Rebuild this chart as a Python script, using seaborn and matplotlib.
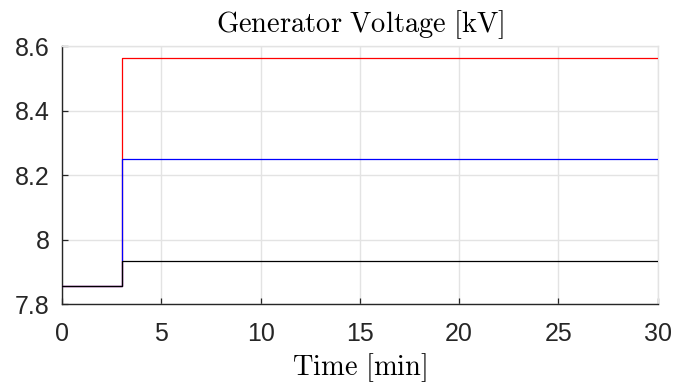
import numpy as np
import pandas as pd
import matplotlib
matplotlib.use("Agg")
import matplotlib.pyplot as plt
import seaborn as sns

# Time axis (minutes) and voltage levels per case (kV)
time_min = [0.0, 3.0, 30.0]
v_high = [7.857, 8.562, 8.562]
v_mid = [7.857, 8.249, 8.249]
v_low = [7.857, 7.935, 7.935]

series_names = ["high", "mid", "low"]
series_colors = ["#ff0000", "#0000ff", "#000000"]

x_ticks = [0, 5, 10, 15, 20, 25, 30]
y_ticks = [7.8, 8.0, 8.2, 8.4, 8.6]
y_tick_labels = ["7.8", "8", "8.2", "8.4", "8.6"]

df = pd.concat(
    [
        pd.DataFrame({"time": time_min, "voltage": vals, "case": name})
        for name, vals in zip(series_names, [v_high, v_mid, v_low])
    ],
    ignore_index=True,
)

sns.set_style("ticks")
plt.rcParams["font.family"] = ["Liberation Sans", "DejaVu Sans"]
plt.rcParams["mathtext.fontset"] = "cm"

fig = plt.figure(figsize=(6.75, 3.85), dpi=100)
ax = fig.add_axes([62 / 675, 80.7 / 385, 595.7 / 675, 258.3 / 385])

sns.lineplot(
    data=df, x="time", y="voltage", hue="case",
    palette=dict(zip(series_names, series_colors)),
    hue_order=series_names, drawstyle="steps-post",
    linewidth=0.9, legend=False, ax=ax, zorder=3,
)

ax.set_xlim(0, 30)
ax.set_ylim(7.8, 8.6)
ax.set_xticks(x_ticks)
ax.set_yticks(y_ticks)
ax.set_yticklabels(y_tick_labels)

ax.grid(True, color="#e3e3e3", linewidth=1.0, zorder=0)
ax.set_axisbelow(True)

for side in ["top", "right"]:
    ax.spines[side].set_color("#e3e3e3")
    ax.spines[side].set_linewidth(1.0)
for side in ["left", "bottom"]:
    ax.spines[side].set_color("#262626")
    ax.spines[side].set_linewidth(1.0)

ax.tick_params(axis="both", direction="in", length=4.5, width=0.9,
               color="#262626", labelsize=18, labelcolor="#262626")
ax.tick_params(axis="x", pad=12.5)
ax.tick_params(axis="y", pad=9)
ax.tick_params(top=False, right=False)

ax.set_title(r"$\mathrm{Generator\ Voltage\ [kV]}$", fontsize=20.5, pad=10,
             color="#000000")
ax.set_xlabel(r"$\mathrm{Time\ [min]}$", fontsize=20.5, labelpad=4,
              color="#000000")
ax.set_ylabel("")

fig.savefig("out.png", dpi=100, facecolor="white")
